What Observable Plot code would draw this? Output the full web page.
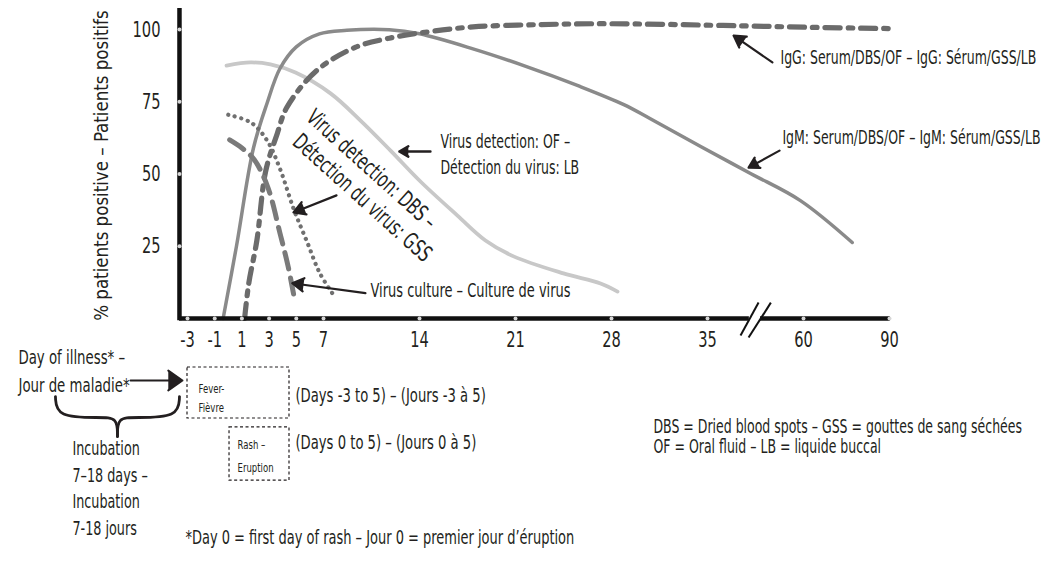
<!DOCTYPE html>
<html><head><meta charset="utf-8">
<script src="https://cdn.jsdelivr.net/npm/d3@7"></script>
<script src="https://cdn.jsdelivr.net/npm/@observablehq/plot@0.6"></script>
<style>body{margin:0;background:#fff}#chart svg{display:block}</style>
</head><body><div id="chart"></div>
<script>
// ---- data ----
const xTicks = [-3, -1, 1, 3, 5, 7, 14, 21, 28, 35, 60, 90];
const yTicks = [25, 50, 75, 100];

const igmDays = [-0.38, 0.6, 1.85, 2.85, 3.8, 5.0, 6.7, 8.7, 11.8, 14, 17.9, 21.6, 25.7, 28.9, 30.8, 34.5, 46.2, 59.2, 77];
const igmPct  = [0, 25, 59, 74.5, 86.5, 94, 98.5, 99.7, 99.9, 98.5, 93.3, 87.5, 80.3, 74, 69.2, 59.5, 50.2, 40.8, 26.3];

const iggDays = [1.2, 1.5, 2.1, 2.75, 3.6, 4.3, 6.5, 9.35, 11.8, 14.8, 17.9, 22.8, 27.7, 39, 60, 92];
const iggPct  = [0, 12, 27, 51, 64, 73, 85.8, 93.9, 97, 99.3, 100.9, 101.7, 102, 101.4, 100.8, 100.3];

const ofDays = [-0.13, 1.63, 3.1, 4.94, 7.51, 9.7, 11.89, 14.07, 16.77, 18.81, 20.86, 24.5, 27.2, 28.44];
const ofPct  = [87.5, 88.6, 87.9, 85.1, 77.9, 68.5, 58.1, 47.4, 35.6, 27.0, 21.5, 15.6, 12.1, 9.3];

const dbsDays = [0.0, 1.7, 2.85, 3.8, 4.8, 5.8, 6.75, 7.9];
const dbsPct  = [70.5, 67.7, 61.6, 51.8, 38, 26.4, 15.5, 7];

const cultDays = [0.1, 1.0, 1.9, 2.9, 3.8, 4.4, 4.8];
const cultPct  = [61.8, 59, 55, 45.5, 29.5, 18, 8.5];

const yTitle = "% patients positive – Patients positifs";
const iggLabel = "IgG: Serum/DBS/OF – IgG: Sérum/GSS/LB";
const igmLabel = "IgM: Serum/DBS/OF – IgM: Sérum/GSS/LB";
const ofLabel = ["Virus detection: OF –", "Détection du virus: LB"];
const dbsLabel = ["Virus detection: DBS –", "Détection du virus: GSS"];
const cultureLabel = "Virus culture – Culture de virus";
const dayLabel = ["Day of illness* –", "Jour de maladie*"];
const incubLabel = ["Incubation", "7–18 days –", "Incubation", "7-18 jours"];
const feverLabel = ["Fever-", "Fièvre"];
const rashLabel = ["Rash –", "Eruption"];
const feverDays = "(Days -3 to 5) – (Jours -3 à 5)";
const rashDays = "(Days 0 to 5) – (Jours 0 à 5)";
const abbrevLabel = ["DBS = Dried blood spots – GSS = gouttes de sang séchées", "OF = Oral fluid – LB = liquide buccal"];
const footnote = "*Day 0 = first day of rash – Jour 0 = premier jour d’éruption";

// ---- build tables ----
const toRows = (days, pct) => days.map((d, i) => ({day: d, pct: pct[i]}));
const igm = toRows(igmDays, igmPct);
const igg = toRows(iggDays, iggPct);
const of = toRows(ofDays, ofPct);
const dbs = toRows(dbsDays, dbsPct);
const cult = toRows(cultDays, cultPct);

const ink = "#231f20";
const AX = -3.59; // y-axis position in days
const txt = (s, x, y, o = {}) => Plot.text([s], {x, y, text: d => d, textAnchor: "start", fill: ink, fontSize: 19, ...o});

const chart = Plot.plot({
  width: 1057,
  height: 575,
  margin: 0,
  x: {type: "linear", domain: [-3, 7, 35, 60, 90], range: [187, 323, 707, 803, 889], axis: null},
  y: {domain: [0, 100], range: [318, 29], axis: null},
  style: {fontFamily: "'DejaVu Sans Condensed',sans-serif", fontSize: "17px", background: "#fff", color: ink},
  marks: [
    // series
    Plot.line(of, {x: "day", y: "pct", curve: "catmull-rom", stroke: "#c8c8c8", strokeWidth: 3.8}),
    Plot.line(igm, {x: "day", y: "pct", curve: "catmull-rom", stroke: "#8a8a8a", strokeWidth: 3.5}),
    Plot.line(igg, {x: "day", y: "pct", curve: "catmull-rom", stroke: "#6b6b6b", strokeWidth: 5.2, strokeDasharray: "15,8,4.5,8"}),
    Plot.line(cult, {x: "day", y: "pct", curve: "catmull-rom", stroke: "#7a7a7a", strokeWidth: 5, strokeDasharray: "17,9"}),
    Plot.line(dbs, {x: "day", y: "pct", curve: "catmull-rom", stroke: "#707070", strokeWidth: 4.2, strokeDasharray: "0.1,6.6", strokeLinecap: "round"}),

    // axes
    Plot.ruleX([AX], {y1: -0.8, y2: 107.3, stroke: "#111", strokeWidth: 4.5}),
    Plot.ruleY([0], {x1: AX, x2: 45.9, stroke: "#111", strokeWidth: 4.5}),
    Plot.ruleY([0], {x1: 48.8, x2: 90.3, stroke: "#111", strokeWidth: 4.5}),
    Plot.link([0], {x1: 43.6, y1: -5.9, x2: 48.3, y2: 5.5, stroke: "#111", strokeWidth: 2}),
    Plot.link([0], {x1: 45.7, y1: -6.6, x2: 51.5, y2: 5.5, stroke: "#111", strokeWidth: 2}),
    Plot.dot(xTicks, {x: d => d, y: 0, r: 2, fill: "#d6d6d6"}),
    Plot.dot(yTicks, {x: AX, y: d => d, r: 2, fill: "#d6d6d6"}),
    Plot.text(xTicks, {x: d => d, y: 0, dy: 21, text: d => String(d), fontSize: 22, fill: ink}),
    Plot.text(yTicks, {x: AX, dx: -19, y: d => d, text: d => String(d), textAnchor: "end", fontSize: 22, fill: ink}),
    txt(yTitle, -9.32, 52.9, {rotate: -90, textAnchor: "middle", fontSize: 19.5}),

    // series annotations
    txt(iggLabel, 54.0, 90.3, {fontSize: 18.8}),
    Plot.arrow([0], {x1: 51.9, y1: 88.6, x2: 41.8, y2: 97.9, stroke: ink, fill: ink, strokeWidth: 2.2, headLength: 9}),
    txt(igmLabel, 54.5, 62.6, {fontSize: 18.8}),
    Plot.arrow([0], {x1: 53.75, y1: 58.1, x2: 45.7, y2: 52.2, stroke: ink, fill: ink, strokeWidth: 2.2, headLength: 9}),
    txt(ofLabel[0], 15.53, 61.25, {fontSize: 18.8}),
    txt(ofLabel[1], 15.53, 52.25, {fontSize: 18.8}),
    Plot.arrow([0], {x1: 14.8, y1: 57.8, x2: 12.53, y2: 57.8, stroke: ink, fill: ink, strokeWidth: 2.4, headLength: 9}),
    txt(dbsLabel[0], 10.5, 51.6, {rotate: 42, textAnchor: "middle", fontSize: 22.5}),
    txt(dbsLabel[1], 9.82, 41.7, {rotate: 42, textAnchor: "middle", fontSize: 22.5}),
    Plot.arrow([0], {x1: 7.95, y1: 42.6, x2: 4.79, y2: 36.7, stroke: ink, fill: ink, strokeWidth: 2.2, headLength: 9}),
    txt(cultureLabel, 10.43, 9.7, {fontSize: 19.5}),
    Plot.arrow([0], {x1: 10.06, y1: 8.75, x2: 4.7, y2: 12.2, stroke: ink, fill: ink, strokeWidth: 2.2, headLength: 9}),

    // lower panel
    txt(dayLabel[0], -15.43, -13.5, {fontSize: 20}),
    txt(dayLabel[1], -15.43, -23.2, {fontSize: 20}),
    Plot.arrow([0], {x1: -7.19, y1: -21.45, x2: -3.37, y2: -21.45, stroke: ink, fill: ink, strokeWidth: 2, headLength: 15, headAngle: 70}),
    Plot.line([
      {x: -12.71, y: -27.0}, {x: -12.63, y: -34.26}, {x: -9.4, y: -34.26}, {x: -8.15, y: -34.26}, {x: -8.15, y: -40.83}
    ], {x: "x", y: "y", curve: "basis", stroke: ink, strokeWidth: 2.8}),
    Plot.line([
      {x: -8.15, y: -40.83}, {x: -8.15, y: -34.26}, {x: -6.9, y: -34.26}, {x: -3.66, y: -34.26}, {x: -3.59, y: -27.0}
    ], {x: "x", y: "y", curve: "basis", stroke: ink, strokeWidth: 2.8}),
    ...incubLabel.map((s, i) => txt(s, -11.46, [-45, -54.3, -63.3, -72.7][i], {fontSize: 19.2})),
    Plot.rect([0], {x1: -3, x2: 4.5, y1: -16.96, y2: -34.6, fill: "none", stroke: ink, strokeWidth: 1.2, strokeDasharray: "3,2.5"}),
    Plot.rect([0], {x1: 0.09, x2: 4.5, y1: -37.7, y2: -56.1, fill: "none", stroke: ink, strokeWidth: 1.2, strokeDasharray: "3,2.5"}),
    txt(feverLabel[0], -2.19, -24.2, {fontSize: 12.8}),
    txt(feverLabel[1], -2.19, -30.8, {fontSize: 12.8}),
    txt(rashLabel[0], 0.68, -43.9, {fontSize: 12.8}),
    txt(rashLabel[1], 0.68, -51.6, {fontSize: 12.8}),
    txt(feverDays, 4.94, -26.6, {fontSize: 19.8}),
    txt(rashDays, 4.94, -42.9, {fontSize: 19.8}),
    txt(abbrevLabel[0], 31.06, -37.7, {fontSize: 18.8}),
    txt(abbrevLabel[1], 31.06, -44.3, {fontSize: 18.8}),
    txt(footnote, -3.15, -75.8, {fontSize: 19.5})
  ]
});
document.getElementById("chart").append(chart);

// condense the glyphs horizontally, like the reference's condensed typeface
const squeeze = new Map([[yTitle, 0.95]]);
chart.querySelectorAll("text").forEach(el => {
  const k = squeeze.get(el.textContent) ?? 0.74;
  const w = el.getComputedTextLength();
  if (w > 0) {
    el.setAttribute("textLength", (w * k).toFixed(1));
    el.setAttribute("lengthAdjust", "spacingAndGlyphs");
  }
});
</script>
</body></html>
